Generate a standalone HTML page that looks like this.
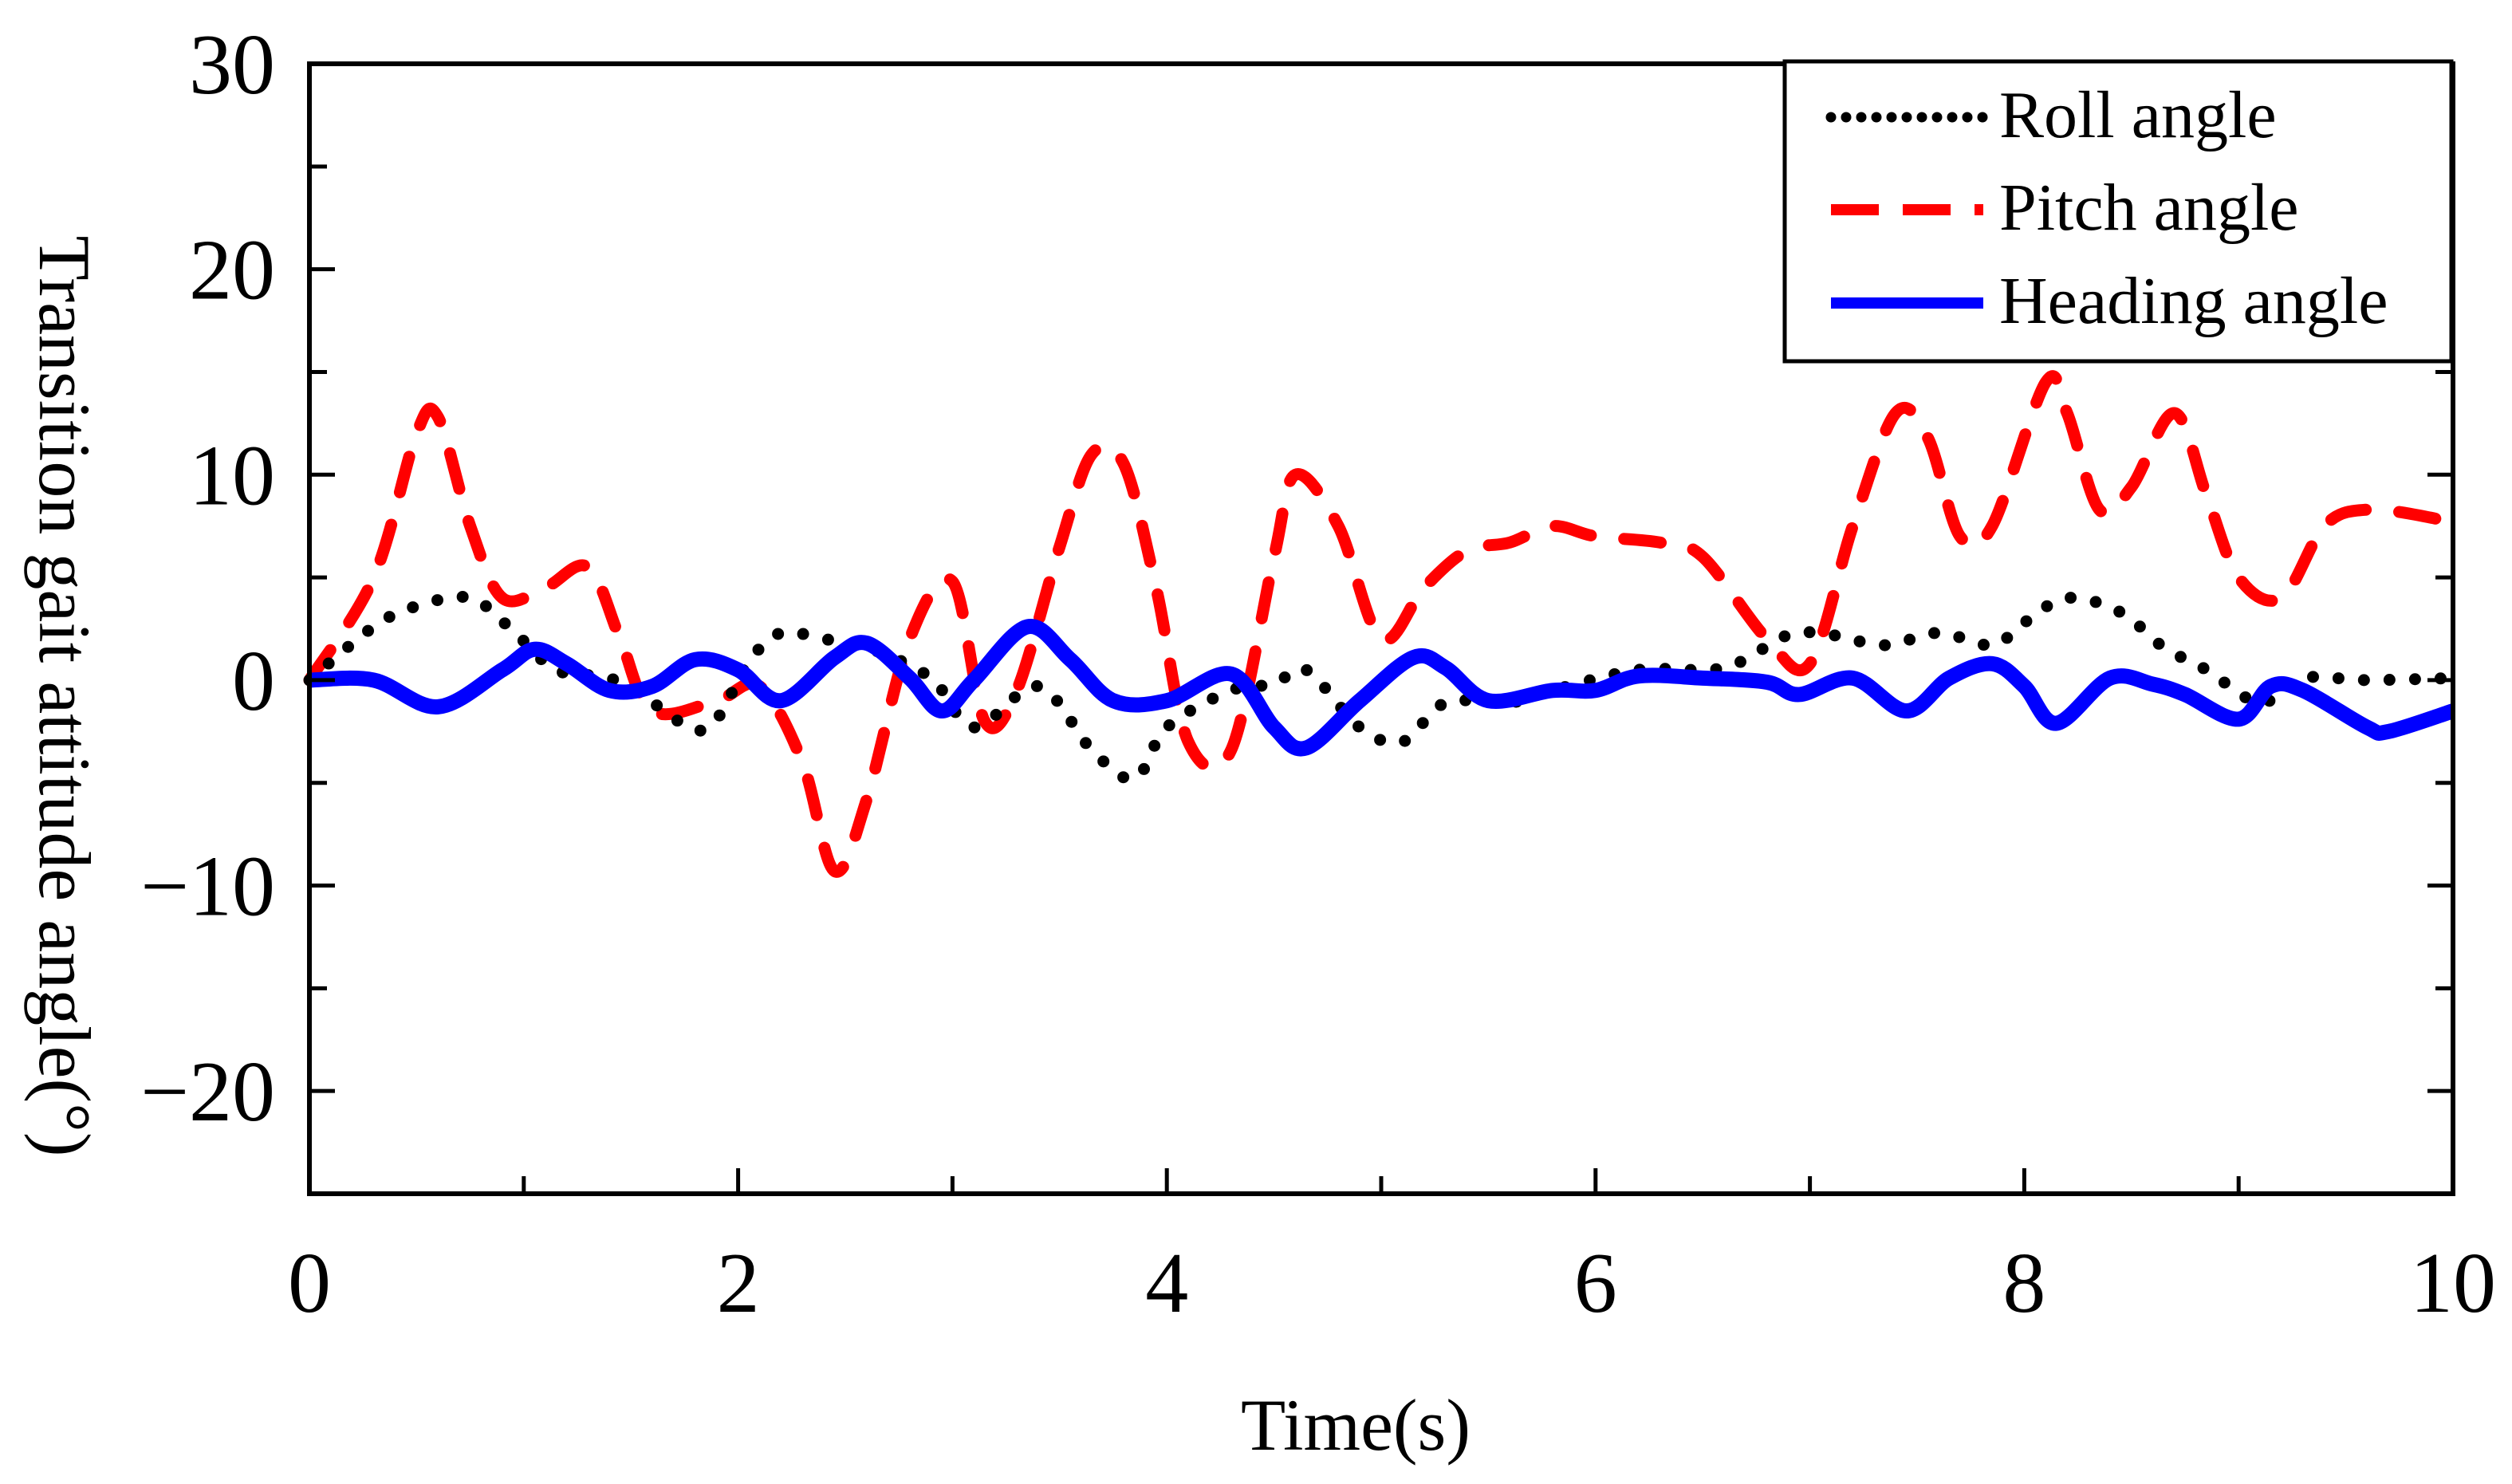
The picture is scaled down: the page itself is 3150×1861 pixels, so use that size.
<!DOCTYPE html>
<html><head><meta charset="utf-8"><style>
html,body{margin:0;padding:0;background:#fff;}
svg{display:block;font-family:"Liberation Serif",serif;}
</style></head><body>
<svg id="chart" width="3150" height="1861" viewBox="0 0 3150 1861" xmlns="http://www.w3.org/2000/svg">
<rect width="3150" height="1861" fill="#fff"/>
<g id="series"></g>
<g id="axes"></g>
<g>
<rect x="2238" y="77" width="836" height="376" fill="#fff" stroke="#000" stroke-width="5"/>
<line x1="2296" y1="147" x2="2487" y2="147" stroke="#000" stroke-width="13" stroke-linecap="round" stroke-dasharray="0 19"/>
<text x="2507" y="172" font-size="84">Roll angle</text>
<line x1="2296" y1="263" x2="2487" y2="263" stroke="#f00" stroke-width="14" stroke-dasharray="60 30"/>
<text x="2507" y="288" font-size="84">Pitch angle</text>
<line x1="2296" y1="380" x2="2487" y2="380" stroke="#00f" stroke-width="14"/>
<text x="2507" y="405" font-size="84">Heading angle</text>
</g>
<text x="1700" y="1818" font-size="92" text-anchor="middle">Time(s)</text>
<text transform="translate(50,873) rotate(90)" font-size="92" text-anchor="middle">Transition gait attitude angle(°)</text>
</svg>
<script>
const times = [0,0.3,0.5,0.6,0.75,0.9,1.1,1.3,1.45,1.6,1.9,2.1,2.3,2.45,2.6,2.8,3.0,3.15,3.3,3.5,3.65,3.8,3.95,4.1,4.3,4.5,4.6,4.8,5.0,5.2,5.4,5.6,5.8,6.0,6.3,6.5,6.8,7.0,7.2,7.4,7.55,7.7,7.85,8.1,8.2,8.35,8.5,8.7,8.85,9.0,9.2,9.4,9.6,9.9,10];
const pitch = [0,5,12,12.8,7.5,4,4.5,5.5,2,-1.5,-1,-0.3,-4,-9.3,-5.8,2,4.8,-2,-0.5,6.5,11,10.5,4.5,-3,-3.4,6,10,7.5,2,4.5,6.3,6.7,7.5,7,6.7,6,2,0.8,7.5,13,11.8,7,7.5,14.5,13,8.3,9.4,13,9,5,4,7.5,8.3,7.9,7.5];
const headingT = [0,0.3,0.6,0.9,1.05,1.2,1.4,1.6,1.8,2.0,2.2,2.45,2.6,2.8,2.95,3.1,3.35,3.55,3.75,4.0,4.3,4.5,4.65,4.9,5.15,5.3,5.5,5.8,6.0,6.2,6.5,6.8,6.95,7.2,7.45,7.65,7.85,8.0,8.15,8.4,8.6,8.75,9.0,9.15,9.3,9.6,9.7,10];
const heading = [0,0,-1.3,0.5,1.5,0.8,-0.5,-0.3,1,0.5,-1,1.1,1.8,0.1,-1.5,0,2.6,1,-1,-1,0.3,-2.3,-3.3,-1,1.1,0.6,-1,-0.5,-0.5,0.2,0.1,-0.1,-0.7,0.1,-1.5,0.1,0.8,-0.3,-2.1,0.1,-0.2,-0.7,-1.9,-0.3,-0.5,-2.3,-2.5,-1.5];
const rollT = [0,0.3,0.5,0.75,0.95,1.15,1.4,1.6,1.85,2.05,2.2,2.4,2.6,2.9,3.1,3.4,3.65,3.85,4.0,4.3,4.5,4.65,4.9,5.1,5.3,5.6,5.8,6.2,6.6,6.9,7.1,7.35,7.6,7.85,8.0,8.2,8.45,8.65,8.85,9.1,9.3,9.6,10];
const roll = [0,2.6,3.6,4,2.4,0.5,0.1,-1.1,-2.4,0.9,2.3,2,1.6,0.1,-2.3,-0.3,-3.4,-4.8,-2.3,-0.5,-0.2,0.5,-2.3,-3,-1.1,-1.1,-0.5,0.5,0.6,2.2,2.2,1.7,2.3,1.7,2.8,4,3.3,1.6,0.5,-1.1,0.1,0,0.1];
const xTicks = [0,2,4,6,8,10];
const yTicks = [-20,-10,0,10,20,30];

const X0=388,X1=3076,Y0=80,Y1=1497,XMIN=0,XMAX=10,YMIN=-25,YMAX=30;
const sx=v=>X0+(v-XMIN)/(XMAX-XMIN)*(X1-X0);
const sy=v=>Y1-(v-YMIN)/(YMAX-YMIN)*(Y1-Y0);
const NS='http://www.w3.org/2000/svg';
function mk(tag,attrs,parent){const e=document.createElementNS(NS,tag);for(const k in attrs)e.setAttribute(k,attrs[k]);parent.appendChild(e);return e;}
function smooth(xs,ys){const p=xs.map((x,i)=>[sx(x),sy(ys[i])]);let d='M'+p[0][0]+','+p[0][1];
for(let i=0;i<p.length-1;i++){const a=p[i-1]||p[i],b=p[i],c=p[i+1],e=p[i+2]||c;
d+=' C'+(b[0]+(c[0]-a[0])/6)+','+(b[1]+(c[1]-a[1])/6)+' '+(c[0]-(e[0]-b[0])/6)+','+(c[1]-(e[1]-b[1])/6)+' '+c[0]+','+c[1];}return d;}
const sg=document.getElementById('series');
const pr=mk('path',{d:smooth(times,pitch),fill:'none',stroke:'#f00','stroke-width':15,'stroke-linecap':'round','stroke-dasharray':'46 42'},sg);


const rl=mk('path',{d:smooth(rollT,roll),fill:'none',stroke:'#000','stroke-width':15,'stroke-linecap':'round','stroke-dasharray':'0 32'},sg);


const hd=mk('path',{d:smooth(headingT,heading),fill:'none',stroke:'#00f','stroke-width':19,'stroke-linejoin':'round'},sg);


const ag=document.getElementById('axes');
const fr=mk('rect',{x:X0,y:Y0,width:X1-X0,height:Y1-Y0,fill:'none',stroke:'#000','stroke-width':6},ag);


for(let v=0;v<=10;v+=1){const L=(v%2===0)?32:22;
const t=mk('line',{x1:sx(v),y1:Y1,x2:sx(v),y2:Y1-L,stroke:'#000','stroke-width':5},ag);

}
for(let v=-25;v<=30;v+=5){const L=(v%10===0)?32:22;
const t=mk('line',{x1:X0,y1:sy(v),x2:X0+L,y2:sy(v),stroke:'#000','stroke-width':5},ag);


const t2=mk('line',{x1:X1,y1:sy(v),x2:X1-L,y2:sy(v),stroke:'#000','stroke-width':5},ag);

}
xTicks.forEach(v=>{const t=mk('text',{x:sx(v),y:1645,'font-size':108,'text-anchor':'middle'},ag);t.textContent=v;

});
yTicks.forEach(v=>{const t=mk('text',{x:345,y:sy(v)+37,'font-size':108,'text-anchor':'end'},ag);t.textContent=v<0?'\u2212'+Math.abs(v):v;

});
</script>
</body></html>
